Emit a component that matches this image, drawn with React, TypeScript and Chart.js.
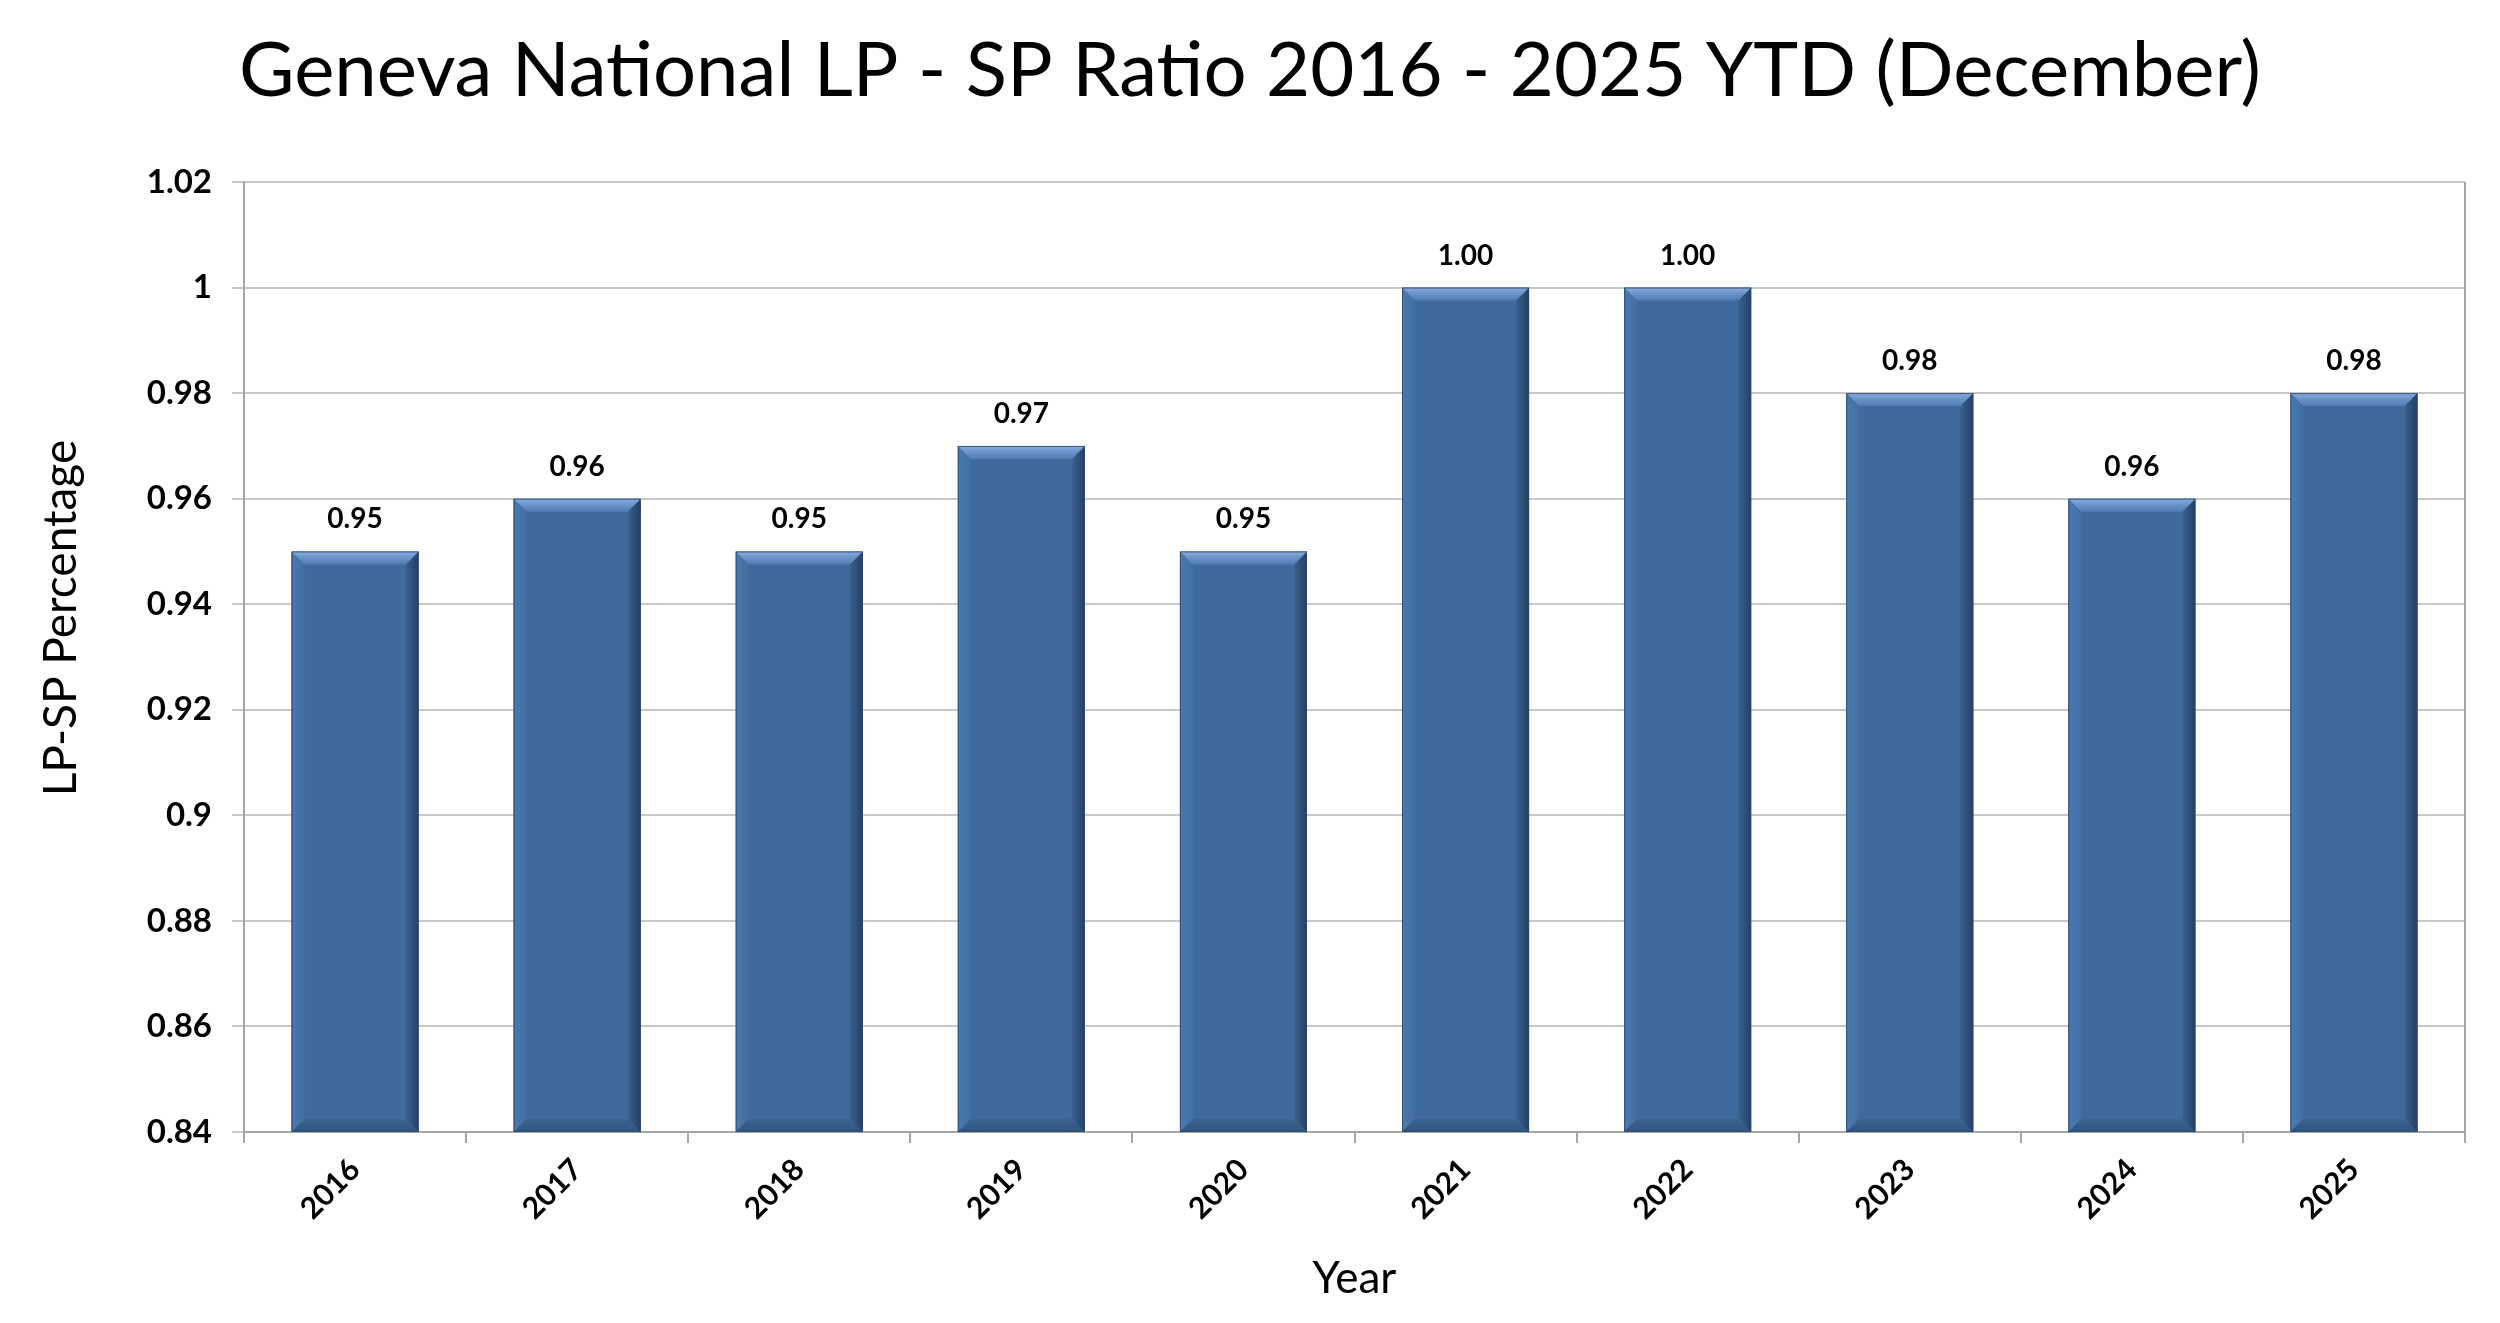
import React, { useEffect, useRef } from "react";
import { Chart, registerables } from "chart.js";

Chart.register(...registerables);

const TITLE = "Geneva National LP - SP Ratio 2016 - 2025 YTD (December)";
const Y_TITLE = "LP-SP Percentage";
const X_TITLE = "Year";

const years = ["2016", "2017", "2018", "2019", "2020", "2021", "2022", "2023", "2024", "2025"];
const ratios = [0.95, 0.96, 0.95, 0.97, 0.95, 1.0, 1.0, 0.98, 0.96, 0.98];

const Y_MIN = 0.84;
const Y_MAX = 1.02;
const Y_STEP = 0.02;

const W = 2500;
const H = 1323;
const FONT = "Lato, 'Open Sans', sans-serif";

const SIDE_PAD = 35;
const CHART_LEFT = 244;
const CHART_TOP = 182;
const CHART_BOTTOM = 1132;
const TITLE_WIDTH = 2022;
const TITLE_CENTER_Y = 71;

function fitTitleSize(): number {
  const c = document.createElement("canvas");
  const ctx = c.getContext("2d");
  if (!ctx) return 86;
  ctx.font = `400 100px ${FONT}`;
  const w = ctx.measureText(TITLE).width;
  return w > 0 ? (100 * TITLE_WIDTH) / w : 86;
}

const decorPlugin = {
  id: "decor",
  afterDatasetsDraw(chart: any) {
    const ctx = chart.ctx as CanvasRenderingContext2D;
    const area = chart.chartArea;
    const meta = chart.getDatasetMeta(0);
    const values = chart.data.datasets[0].data as number[];
    meta.data.forEach((el: any, i: number) => {
      const { x, y, base, width } = el.getProps(["x", "y", "base", "width"], true);
      const L = x - width / 2;
      const R = x + width / 2;
      const T = Math.max(Math.min(y, base), area.top);
      const B = Math.min(Math.max(y, base), area.bottom);
      const b = Math.min(13, (B - T) / 2);
      ctx.save();
      // left bevel
      let g = ctx.createLinearGradient(L, 0, L + b, 0);
      g.addColorStop(0, "#4B7AAF");
      g.addColorStop(1, "#416FA3");
      ctx.fillStyle = g;
      ctx.beginPath();
      ctx.moveTo(L, T);
      ctx.lineTo(L + b, T + b);
      ctx.lineTo(L + b, B - b);
      ctx.lineTo(L, B);
      ctx.closePath();
      ctx.fill();
      // right bevel
      g = ctx.createLinearGradient(R - b, 0, R, 0);
      g.addColorStop(0, "#3A6291");
      g.addColorStop(1, "#243F63");
      ctx.fillStyle = g;
      ctx.beginPath();
      ctx.moveTo(R, T);
      ctx.lineTo(R, B);
      ctx.lineTo(R - b, B - b);
      ctx.lineTo(R - b, T + b);
      ctx.closePath();
      ctx.fill();
      // bottom bevel
      g = ctx.createLinearGradient(0, B - b, 0, B);
      g.addColorStop(0, "#3B6594");
      g.addColorStop(1, "#30537D");
      ctx.fillStyle = g;
      ctx.beginPath();
      ctx.moveTo(L, B);
      ctx.lineTo(R, B);
      ctx.lineTo(R - b, B - b);
      ctx.lineTo(L + b, B - b);
      ctx.closePath();
      ctx.fill();
      // top bevel
      g = ctx.createLinearGradient(0, T, 0, T + b);
      g.addColorStop(0, "#88AEDE");
      g.addColorStop(0.4, "#6E97CB");
      g.addColorStop(1, "#4F7DB3");
      ctx.fillStyle = g;
      ctx.beginPath();
      ctx.moveTo(L, T);
      ctx.lineTo(R, T);
      ctx.lineTo(R - b, T + b);
      ctx.lineTo(L + b, T + b);
      ctx.closePath();
      ctx.fill();
      // outline
      ctx.strokeStyle = "rgba(44,72,110,0.85)";
      ctx.lineWidth = 1;
      ctx.strokeRect(L + 0.5, T + 0.5, width - 1, B - T - 1);
      // value label
      ctx.fillStyle = "#000000";
      ctx.font = `700 28px ${FONT}`;
      ctx.textAlign = "center";
      ctx.textBaseline = "alphabetic";
      ctx.fillText(values[i].toFixed(2), x, T - 23);
      ctx.restore();
    });
  },
  afterDraw(chart: any) {
    const ctx = chart.ctx as CanvasRenderingContext2D;
    const a = chart.chartArea;
    ctx.save();
    // right border of plot area
    ctx.strokeStyle = "#a6a6a6";
    ctx.lineWidth = 2;
    ctx.beginPath();
    ctx.moveTo(a.right, a.top);
    ctx.lineTo(a.right, a.bottom);
    ctx.stroke();
    // y axis title
    ctx.fillStyle = "#000000";
    ctx.font = `400 46px ${FONT}`;
    ctx.textAlign = "center";
    ctx.textBaseline = "middle";
    ctx.translate(61, a.top + (a.bottom - a.top) * 0.459);
    ctx.rotate(-Math.PI / 2);
    ctx.fillText(Y_TITLE, 0, 0);
    ctx.restore();
  },
};

export default function App() {
  const canvasRef = useRef<HTMLCanvasElement | null>(null);

  useEffect(() => {
    document.body.style.margin = "0";
    const canvas = canvasRef.current;
    if (!canvas) return;
    const titleSize = fitTitleSize();
    const titleLH = titleSize * 1.2;
    const titlePadTop = TITLE_CENTER_Y - titleLH / 2;
    const titlePadBottom = CHART_TOP - titlePadTop - titleLH;

    const chart = new Chart(canvas, {
      type: "bar",
      data: {
        labels: years,
        datasets: [
          {
            data: ratios,
            backgroundColor: "#3E6A9C",
            borderWidth: 0,
            categoryPercentage: 1,
            barPercentage: 0.572,
          },
        ],
      },
      options: {
        animation: false,
        responsive: true,
        maintainAspectRatio: false,
        layout: { padding: { left: SIDE_PAD, right: SIDE_PAD, top: 0, bottom: 0 } },
        plugins: {
          legend: { display: false },
          tooltip: { enabled: false },
          title: {
            display: true,
            text: TITLE,
            color: "#000000",
            font: { family: FONT, size: titleSize, weight: "400", lineHeight: 1.2 },
            padding: { top: titlePadTop, bottom: titlePadBottom },
          },
        },
        scales: {
          x: {
            grid: {
              display: true,
              drawOnChartArea: false,
              drawTicks: true,
              tickLength: 11,
              color: "#a6a6a6",
              lineWidth: 2,
              offset: true,
            },
            border: { display: true, color: "#a6a6a6", width: 2 },
            ticks: {
              color: "#000000",
              font: { family: FONT, size: 30, weight: "700" },
              maxRotation: 45,
              minRotation: 45,
              autoSkip: false,
              padding: 9,
            },
            title: {
              display: true,
              text: X_TITLE,
              color: "#000000",
              font: { family: FONT, size: 44, weight: "400", lineHeight: 1.2 },
              padding: { top: 0, bottom: 18 },
            },
            afterFit: (s: any) => {
              s.height = H - CHART_BOTTOM;
            },
          },
          y: {
            min: Y_MIN,
            max: Y_MAX,
            grid: {
              color: "#c8c8c8",
              lineWidth: 2,
              tickLength: 12,
              tickColor: "#c8c8c8",
            },
            border: { display: true, color: "#a6a6a6", width: 2 },
            ticks: {
              stepSize: Y_STEP,
              color: "#000000",
              font: { family: FONT, size: 33, weight: "700" },
              padding: 20,
              callback: (v: any) => String(Number(Number(v).toFixed(2))),
            },
            afterFit: (s: any) => {
              s.width = CHART_LEFT - SIDE_PAD;
            },
          },
        },
      },
      plugins: [decorPlugin],
    });
    return () => chart.destroy();
  }, []);

  return (
    <div style={{ width: W, height: H, position: "relative", background: "#ffffff" }}>
      <canvas ref={canvasRef} />
    </div>
  );
}
